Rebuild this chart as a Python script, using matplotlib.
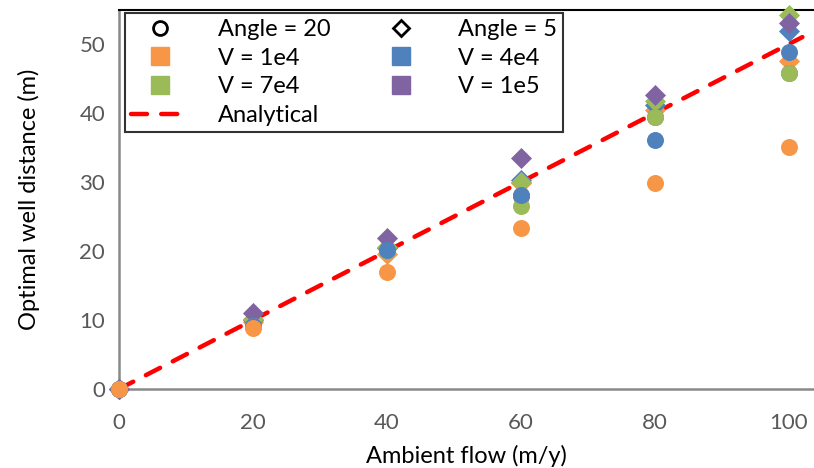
import matplotlib
matplotlib.use("Agg")
import matplotlib.pyplot as plt
from matplotlib.lines import Line2D

plt.rcParams['font.family'] = ['Lato', 'DejaVu Sans']

flow = [0, 20, 40, 60, 80, 100]

# Angle = 20 (circles)
a20_v1e4 = [0, 8.9, 17.0, 23.3, 29.8, 35.1]
a20_v4e4 = [0, 9.2, 20.1, 28.1, 36.1, 48.8]
a20_v7e4 = [0, 9.1, 20.0, 26.5, 39.4, 45.8]
a20_v1e5 = [0, 9.2, 20.1, 28.0, 39.4, 45.8]

# Angle = 5 (diamonds)
a5_v1e4 = [0, 9.7, 19.6, 29.8, 40.5, 47.6]
a5_v4e4 = [0, 10.0, 20.4, 30.3, 41.1, 51.9]
a5_v7e4 = [0, 10.1, 20.6, 30.0, 41.7, 54.2]
a5_v1e5 = [0, 11.0, 21.9, 33.5, 42.6, 53.0]

analytic_x = [0, 102]
analytic_y = [0, 51]

c_orange = '#F79646'
c_blue = '#4F81BD'
c_green = '#9BBB59'
c_purple = '#8064A2'

fig = plt.figure(figsize=(8.14, 4.68), dpi=100)
ax = fig.add_axes([119/814, 79/468, 1 - 119/814, (389 - 10)/468])

ax.plot(analytic_x, analytic_y, color='#FF0000', lw=3.2, dashes=(3.6, 3.2),
        dash_capstyle='round', zorder=2)

ms = 115
for vals, col in [(a5_v1e4, c_orange), (a5_v4e4, c_blue),
                  (a5_v7e4, c_green), (a5_v1e5, c_purple)]:
    ax.scatter(flow, vals, s=ms, marker='D', color=col, linewidths=0,
               zorder=3, clip_on=False)
for vals, col in [(a20_v1e5, c_purple), (a20_v7e4, c_green),
                  (a20_v4e4, c_blue), (a20_v1e4, c_orange)]:
    ax.scatter(flow, vals, s=ms * 1.3, marker='o', color=col, linewidths=0,
               zorder=4, clip_on=False)

ax.set_xlim(0, (814 - 119)/6.7)
ax.set_ylim(0, (389 - 10)/6.9)
ax.set_xticks([0, 20, 40, 60, 80, 100])
ax.set_yticks([0, 10, 20, 30, 40, 50])
ax.tick_params(length=0, labelsize=16, labelcolor='#595959')
ax.tick_params(axis='x', pad=17)
ax.tick_params(axis='y', pad=10)

for s in ['left', 'bottom']:
    ax.spines[s].set_color('#898989')
    ax.spines[s].set_linewidth(1.8)
ax.spines['top'].set_color('black')
ax.spines['top'].set_linewidth(1.5)
ax.spines['right'].set_visible(False)

ax.set_xlabel('Ambient flow (m/y)', fontsize=17, color='black', labelpad=9)
ax.set_ylabel('Optimal well distance (m)', fontsize=17, color='black', labelpad=28)

handles = [
    Line2D([], [], ls='none', marker='o', mfc='white', mec='black', mew=2, ms=10),
    Line2D([], [], ls='none', marker='s', color=c_orange, ms=13),
    Line2D([], [], ls='none', marker='s', color=c_green, ms=13),
    Line2D([], [], color='#FF0000', lw=3.2, dashes=(3.6, 3.2), dash_capstyle='round'),
    Line2D([], [], ls='none', marker='D', mfc='white', mec='black', mew=2, ms=8),
    Line2D([], [], ls='none', marker='s', color=c_blue, ms=13),
    Line2D([], [], ls='none', marker='s', color=c_purple, ms=13),
]
labels = ['Angle = 20', 'V = 1e4', 'V = 7e4', 'Analytical',
          'Angle = 5', 'V = 4e4', 'V = 1e5']
leg = ax.legend(handles, labels, ncol=2, loc='upper left',
                bbox_to_anchor=(6/695, 1 - 3/379), fontsize=17,
                frameon=True, fancybox=False, edgecolor='black',
                borderaxespad=0, handlelength=2.5, columnspacing=1.7,
                labelspacing=0.33, borderpad=0.25, handletextpad=1.2)
leg.get_frame().set_linewidth(1.5)

fig.savefig('out.png', dpi=100)
